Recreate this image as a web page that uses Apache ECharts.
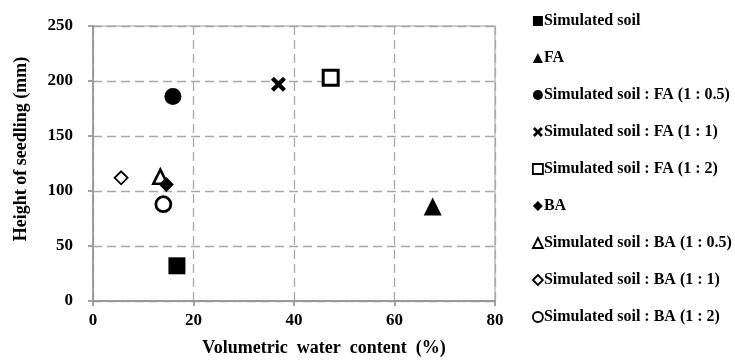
<!DOCTYPE html>
<html><head><meta charset="utf-8">
<script src="https://cdn.jsdelivr.net/npm/echarts@6/dist/echarts.min.js"></script>
<style>html,body{margin:0;padding:0;background:#fff}#c{width:735px;height:362px}</style>
</head><body><div id="c"></div>
<script>
var seriesNames = ['Simulated soil','FA','Simulated soil : FA (1 : 0.5)','Simulated soil : FA (1 : 1)','Simulated soil : FA (1 : 2)','BA','Simulated soil : BA (1 : 0.5)','Simulated soil : BA (1 : 1)','Simulated soil : BA (1 : 2)'];
var waterContent = [16.7, 67.6, 15.9, 36.9, 47.3, 14.6, 13.4, 5.6, 14.0];
var seedlingHeight = [32, 86, 186, 197, 203, 106, 113, 112, 88];
var xTicks = [0, 20, 40, 60, 80];
var yTicks = [0, 50, 100, 150, 200, 250];

var crossPath = 'path://M2,0 L5,3 L8,0 L10,2 L7,5 L10,8 L8,10 L5,7 L2,10 L0,8 L3,5 L0,2 Z';
var styles = [
  {symbol:'rect', size:17, fill:'#000', bw:0},
  {symbol:'triangle', size:18, fill:'#000', bw:0},
  {symbol:'circle', size:17, fill:'#000', bw:0},
  {symbol:crossPath, size:15, fill:'#000', bw:0},
  {symbol:'rect', size:15, fill:'#fff', bw:3},
  {symbol:'diamond', size:15, fill:'#000', bw:0},
  {symbol:'triangle', size:14, fill:'#fff', bw:2.6},
  {symbol:'diamond', size:13, fill:'#fff', bw:1.8},
  {symbol:'circle', size:15, fill:'#fff', bw:2.8}
];
var font = 'Liberation Serif';
var series = seriesNames.map(function(n, i){
  var s = styles[i];
  return {
    name: n, type: 'scatter', symbol: s.symbol, symbolSize: s.size,
    data: [[waterContent[i], seedlingHeight[i]]],
    itemStyle: {color: s.fill, borderColor: '#000', borderWidth: s.bw, opacity: 1},
    z: 10 - i
  };
});
var chart = echarts.init(document.getElementById('c'));
chart.setOption({
  animation: false,
  backgroundColor: '#fff',
  grid: {left: 93, right: 240, top: 26, bottom: 59, containLabel: false, show: true, borderColor: '#bdbdbd', borderWidth: 1.5, backgroundColor: 'transparent'},
  legend: {
    orient: 'vertical', left: 527, top: 8, itemGap: 21, itemWidth: 10, itemHeight: 10,
    data: seriesNames.map(function(n, i){ return {name: n, itemStyle: {borderWidth: styles[i].bw ? 1.8 : 0}}; }),
    textStyle: {fontFamily: font, fontWeight: 'bold', fontSize: 16, color: '#000', padding: [0,0,0,-4]}
  },
  xAxis: {
    type: 'value', min: 0, max: 80, interval: 20,
    name: 'Volumetric  water  content  (%)', nameLocation: 'middle', nameGap: 38,
    nameTextStyle: {fontFamily: font, fontWeight: 'bold', fontSize: 18, color: '#000', padding: [0,0,0,60]},
    axisLine: {lineStyle: {color: '#999', width: 1.8}},
    axisTick: {show: true, length: 5, lineStyle: {color: '#999', width: 1.8}},
    axisLabel: {fontFamily: font, fontWeight: 'bold', fontSize: 17, color: '#000', margin: 11},
    splitLine: {show: true, lineStyle: {color: '#a8a8a8', type: [9, 5], width: 1.3}}
  },
  yAxis: {
    type: 'value', min: 0, max: 250, interval: 50,
    name: 'Height of seedling (mm)', nameLocation: 'middle', nameGap: 63,
    nameTextStyle: {fontFamily: font, fontWeight: 'bold', fontSize: 18, color: '#000', padding: [0,0,0,29]},
    axisLine: {show: true, lineStyle: {color: '#999', width: 1.8}},
    axisTick: {show: true, length: 5, lineStyle: {color: '#999', width: 1.8}},
    axisLabel: {fontFamily: font, fontWeight: 'bold', fontSize: 17, color: '#000', margin: 20},
    splitLine: {show: true, lineStyle: {color: '#a8a8a8', type: [9, 5], width: 1.3}}
  },
  series: series
});
</script></body></html>
